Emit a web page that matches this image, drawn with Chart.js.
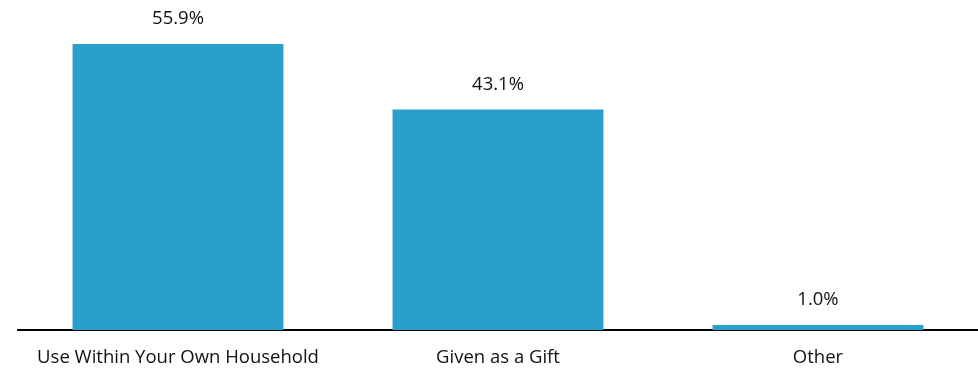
<!DOCTYPE html>
<html>
<head>
<meta charset="utf-8">
<script src="https://cdn.jsdelivr.net/npm/chart.js@4"></script>
<style>
  html, body { margin: 0; padding: 0; background: #fff; overflow: hidden; }
  canvas { display: block; }
</style>
</head>
<body>
<canvas id="chart" width="978" height="370"></canvas>
<script>
const categories = ["Use Within Your Own Household", "Given as a Gift", "Other"]
const shares = [55.9, 43.1, 1.0]

const barColor = "#29A0CC"
const textFont = "'Open Sans', sans-serif"

// draws "55.9%" etc. above each bar
const valueLabels = {
  id: "valueLabels",
  afterDatasetsDraw(chart) {
    const { ctx } = chart
    const meta = chart.getDatasetMeta(0)
    ctx.save()
    ctx.fillStyle = "#111"
    ctx.font = "18.5px " + textFont
    ctx.textAlign = "center"
    ctx.textBaseline = "middle"
    meta.data.forEach((bar, i) => {
      ctx.fillText(shares[i].toFixed(1) + "%", bar.x, bar.y - 25)
    })
    ctx.restore()
  },
}

new Chart(document.getElementById("chart"), {
  type: "bar",
  data: {
    labels: categories,
    datasets: [{
      data: shares,
      backgroundColor: barColor,
      borderWidth: 0,
      barPercentage: 0.659,
      categoryPercentage: 1,
    }],
  },
  options: {
    responsive: false,
    animation: false,
    layout: { padding: { top: 23, left: 18, right: 0, bottom: 0 } },
    scales: {
      x: {
        grid: { display: false, drawTicks: false },
        border: { display: true, color: "#000", width: 2 },
        ticks: {
          color: "#111",
          padding: 17,
          font: { family: textFont, size: 18.5 },
          maxRotation: 0,
        },
        // keep the axis band fixed so the baseline sits where the original has it
        afterFit: (scale) => {
          scale.height = 40
        },
      },
      y: {
        display: false,
        min: 0,
        max: 60,
      },
    },
    plugins: {
      legend: { display: false },
      tooltip: { enabled: false },
    },
  },
  plugins: [valueLabels],
})
</script>
</body>
</html>
